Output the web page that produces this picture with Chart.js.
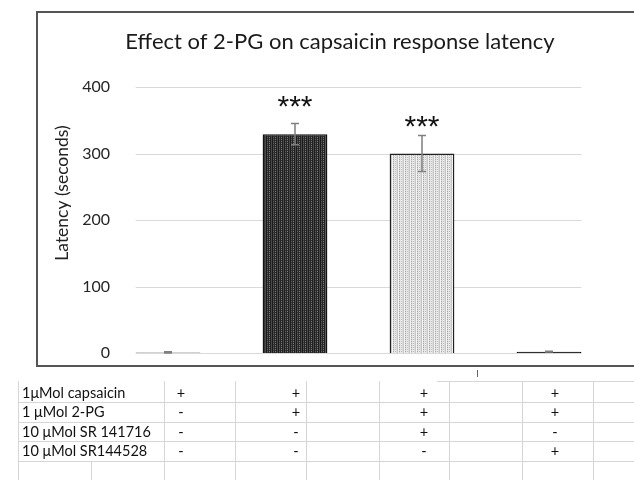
<!DOCTYPE html>
<html>
<head>
<meta charset="utf-8">
<script src="https://cdn.jsdelivr.net/npm/chart.js@4"></script>
<style>
  body { margin: 0; width: 634px; height: 480px; overflow: hidden; background: #fff; font-family: Lato, sans-serif; }
  .frame { position: absolute; background: #555; }
  #wrap { position: absolute; left: 38px; top: 13px; width: 596px; height: 352px; }
  .tbl { position: absolute; left: 0; top: 0; width: 634px; height: 480px; }
  .hl { position: absolute; height: 1px; background: #d6d6d6; }
  .vl { position: absolute; width: 1px; background: #d6d6d6; }
  .txt { position: absolute; font-size: 14.5px; color: #111; line-height: 19px; white-space: nowrap; }
</style>
</head>
<body>
<div class="frame" style="left:36px;top:11px;width:598px;height:2px"></div>
<div class="frame" style="left:36px;top:11px;width:2px;height:356px"></div>
<div class="frame" style="left:36px;top:365px;width:598px;height:2px"></div>
<div class="frame" style="left:477px;top:370px;width:1px;height:7px;background:#666"></div>
<div id="wrap"><canvas id="latencyChart"></canvas></div>
<div class="tbl" id="tbl"></div>

<script>
// chart data
const groups = ['Capsaicin', '2-PG', '2-PG + SR141716', '2-PG + SR144528'];
const latency = [1, 329, 300, 2];
const latencyErr = [1, 16, 27, 0.5];
const marks = ['', '***', '***', ''];
const yTicks = [0, 100, 200, 300, 400];

// treatment table under the chart
const treatments = ['1μMol capsaicin', '1 μMol 2-PG', '10 μMol SR 141716', '10 μMol SR144528'];
const signs = [
  ['+', '+', '+', '+'],
  ['-', '+', '+', '+'],
  ['-', '-', '+', '-'],
  ['-', '-', '-', '+']
];

// build the spreadsheet-like table
const tbl = document.getElementById('tbl');
const rowTop = 383, rowH = 19.4;
const colLines = [18, 164, 235, 306, 379, 449, 522, 593];
const signX = [181, 296, 424, 555];
function add(cls, css, text) {
  const d = document.createElement('div');
  d.className = cls;
  d.style.cssText = css;
  if (text) d.textContent = text;
  tbl.appendChild(d);
}
add('hl', 'left:437px;top:381px;width:197px');
for (let i = 1; i <= 4; i++) {
  add('hl', `left:18px;top:${Math.round(rowTop + i * rowH)}px;width:616px`);
}
colLines.forEach(x => add('vl', `left:${x}px;top:381px;height:99px`));
add('vl', `left:91px;top:${Math.round(rowTop + 4 * rowH)}px;height:30px`);
treatments.forEach((t, r) => {
  const top = rowTop + r * rowH;
  add('txt', `left:22px;top:${top}px`, t);
  signs[r].forEach((s, c) => {
    add('txt', `left:${signX[c] - 10}px;top:${top}px;width:20px;text-align:center`, s);
  });
});

// textured fills like the original bars
function makePattern(cols) {
  const c = document.createElement('canvas');
  c.width = cols.length; c.height = 4;
  const g = c.getContext('2d');
  for (let x = 0; x < cols.length; x++) {
    for (let y = 0; y < 4; y++) {
      g.fillStyle = cols[x][y % cols[x].length];
      g.fillRect(x, y, 1, 1);
    }
  }
  return g.createPattern(c, 'repeat');
}
const darkFill = makePattern([['#1a1a1a'], ['#5e5e5e', '#3a3a3a'], ['#262626'], ['#7a7a7a', '#333'], ['#202020'], ['#4a4a4a']]);
const lightFill = makePattern([['#f4f4f4'], ['#a8a8a8', '#d8d8d8'], ['#e6e6e6'], ['#bdbdbd', '#f0f0f0'], ['#dcdcdc'], ['#c8c8c8']]);

const gridPlugin = {
  id: 'partialGrid',
  beforeDatasetsDraw(chart) {
    const { ctx, scales: { y } } = chart;
    const bars = chart.getDatasetMeta(0).data;
    const x0 = bars[0].x - bars[0].width / 2;
    const x1 = bars[bars.length - 1].x + bars[bars.length - 1].width / 2;
    ctx.save();
    ctx.strokeStyle = '#d9d9d9';
    ctx.lineWidth = 1.2;
    y.ticks.forEach(t => {
      const py = Math.round(y.getPixelForValue(t.value)) + 0.5;
      ctx.beginPath(); ctx.moveTo(x0, py); ctx.lineTo(x1, py); ctx.stroke();
    });
    ctx.restore();
  }
};

const errorPlugin = {
  id: 'errorBars',
  afterDatasetsDraw(chart) {
    const { ctx, scales: { y } } = chart;
    chart.getDatasetMeta(0).data.forEach((bar, i) => {
      const top = y.getPixelForValue(latency[i] + latencyErr[i]);
      const bot = y.getPixelForValue(latency[i] - latencyErr[i]);
      ctx.save();
      ctx.strokeStyle = '#7f7f7f';
      ctx.lineWidth = 1.5;
      ctx.beginPath();
      ctx.moveTo(bar.x, top); ctx.lineTo(bar.x, bot);
      ctx.moveTo(bar.x - 4, top); ctx.lineTo(bar.x + 4, top);
      ctx.moveTo(bar.x - 4, bot); ctx.lineTo(bar.x + 4, bot);
      ctx.stroke();
      if (marks[i]) {
        ctx.fillStyle = '#111';
        ctx.font = '30px "Liberation Sans"';
        ctx.textAlign = 'center';
        ctx.textBaseline = 'alphabetic';
        ctx.fillText(marks[i], bar.x, bar.y - 18);
      }
      ctx.restore();
    });
  }
};

// y axis title drawn where Excel put it
const axisTitlePlugin = {
  id: 'axisTitle',
  afterDraw(chart) {
    const { ctx } = chart;
    ctx.save();
    ctx.translate(24, 180);
    ctx.rotate(-Math.PI / 2);
    ctx.font = '17.5px Lato';
    ctx.fillStyle = '#222';
    ctx.textAlign = 'center';
    ctx.textBaseline = 'middle';
    ctx.fillText('Latency (seconds)', 0, 0);
    ctx.restore();
  }
};

const ctx = document.getElementById('latencyChart').getContext('2d');
const latencyChart = new Chart(ctx, {
  type: 'bar',
  data: {
    labels: groups,
    datasets: [{
      data: latency,
      backgroundColor: ['#a6a6a6', darkFill, lightFill, '#000'],
      borderColor: ['#a6a6a6', '#111', '#222', '#000'],
      borderWidth: 1.5,
      categoryPercentage: 1,
      barPercentage: 0.51,
      clip: false
    }]
  },
  options: {
    responsive: true,
    maintainAspectRatio: false,
    animation: false,
    layout: { padding: { left: 8, right: 0, top: 0, bottom: 12 } },
    plugins: {
      legend: { display: false },
      tooltip: { enabled: false },
      title: {
        display: true,
        text: 'Effect of 2-PG on capsaicin response latency',
        color: '#1a1a1a',
        font: { family: 'Lato', size: 22, weight: 'normal' },
        padding: { top: 16, bottom: 31.6 }
      }
    },
    scales: {
      x: { display: false, offset: false },
      y: {
        min: 0,
        max: 400,
        afterBuildTicks(scale) { scale.ticks = yTicks.map(v => ({ value: v })); },
        afterFit(scale) {
          scale.width = 122;
          // the large label gap should not push the plot area in
          scale.paddingTop = 10;
          scale.paddingBottom = 10;
        },
        grid: { display: false },
        border: { display: false },
        ticks: { color: '#262626', font: { family: 'Lato', size: 16 }, padding: 50 }
      },
      // empty right axis only reserves the space right of the last bar
      yRight: {
        position: 'right',
        afterFit(scale) { scale.width = 85; scale.paddingTop = 0; scale.paddingBottom = 0; },
        grid: { display: false },
        border: { display: false },
        ticks: { display: false }
      }
    }
  },
  plugins: [gridPlugin, errorPlugin, axisTitlePlugin]
});
</script>
</body>
</html>
